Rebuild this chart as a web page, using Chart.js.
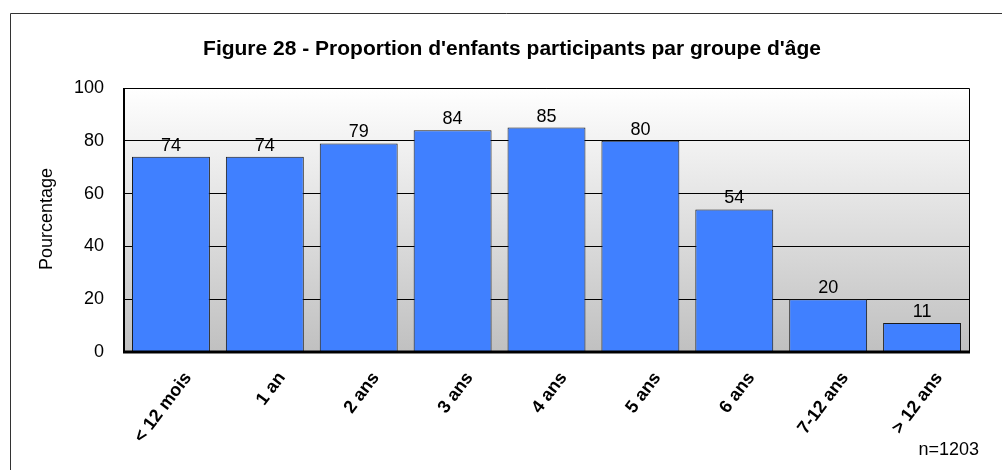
<!DOCTYPE html>
<html>
<head>
<meta charset="utf-8">
<script src="https://cdn.jsdelivr.net/npm/chart.js@4.4.1/dist/chart.umd.min.js"></script>
<style>
  html, body { margin: 0; padding: 0; background: #fff; }
  #wrap { position: relative; width: 1002px; height: 470px; }
</style>
</head>
<body>
<div id="wrap"><canvas id="chart" width="1002" height="470"></canvas></div>
<script>
  var groupes = ["< 12 mois", "1 an", "2 ans", "3 ans", "4 ans", "5 ans", "6 ans", "7-12 ans", "> 12 ans"];
  var pourcentages = [74, 74, 79, 84, 85, 80, 54, 20, 11];
  var titre = "Figure 28 - Proportion d'enfants participants par groupe d'âge";
  var titreAxeY = "Pourcentage";
  var note = "n=1203";

  var police = "'Liberation Sans', Arial, sans-serif";

  var cadre = {
    id: "cadre",
    beforeDraw: function (chart) {
      var c = chart.ctx, a = chart.chartArea;
      c.save();
      // fond dégradé de la zone de tracé
      var g = c.createLinearGradient(0, a.top, 0, a.bottom);
      g.addColorStop(0, "#ffffff");
      g.addColorStop(1, "#c0c0c0");
      c.fillStyle = g;
      c.fillRect(a.left, a.top, a.right - a.left, a.bottom - a.top);
      // cadre extérieur
      c.strokeStyle = "#333";
      c.lineWidth = 1;
      c.beginPath();
      c.moveTo(10.5, 470);
      c.lineTo(10.5, 13.5);
      c.lineTo(1002, 13.5);
      c.stroke();
      c.restore();
    },
    afterDraw: function (chart) {
      var c = chart.ctx, a = chart.chartArea;
      c.save();
      c.strokeStyle = "#000";
      c.lineWidth = 1;
      c.beginPath();
      c.moveTo(a.left, a.top + 0.5);
      c.lineTo(a.right + 0.5, a.top + 0.5);
      c.lineTo(a.right + 0.5, a.bottom);
      c.stroke();
      c.lineWidth = 2;
      c.beginPath();
      c.moveTo(a.left, a.top);
      c.lineTo(a.left, a.bottom + 1);
      c.stroke();
      c.lineWidth = 3;
      c.beginPath();
      c.moveTo(a.left - 1, a.bottom);
      c.lineTo(a.right + 1, a.bottom);
      c.stroke();

      c.fillStyle = "#000";
      c.textBaseline = "middle";
      c.textAlign = "center";
      c.save();
      c.translate(512, 49);
      c.scale(1.05, 1);
      c.font = "bold 20px " + police;
      c.fillText(titre, 0, 0);
      c.restore();

      c.font = "18px " + police;
      c.textAlign = "right";
      c.fillText(note, 979, 450);

      c.translate(47, 219);
      c.rotate(-Math.PI / 2);
      c.textAlign = "center";
      c.fillText(titreAxeY, 0, 0);
      c.restore();

      // étiquettes de valeur
      var meta = chart.getDatasetMeta(0);
      c.save();
      c.font = "18px " + police;
      c.fillStyle = "#000";
      c.textAlign = "center";
      c.textBaseline = "middle";
      meta.data.forEach(function (bar, i) {
        c.fillText(String(pourcentages[i]), bar.x, bar.y - 11);
      });
      c.restore();
    }
  };

  new Chart(document.getElementById("chart"), {
    type: "bar",
    data: {
      labels: groupes,
      datasets: [
        {
          data: pourcentages,
          backgroundColor: "#4080ff",
          borderColor: "#1a1a1a",
          borderWidth: 1,
          borderSkipped: "bottom",
          barPercentage: 0.83,
          categoryPercentage: 1,
        },
      ],
    },
    options: {
      responsive: false,
      animation: false,
      layout: { padding: { left: 0, right: 33, top: 88, bottom: 0 } },
      plugins: {
        legend: { display: false },
        tooltip: { enabled: false },
      },
      scales: {
        x: {
          afterFit: function (s) { s.height = 118; },
          grid: { display: false, drawTicks: false },
          border: { display: false },
          ticks: {
            color: "#000",
            font: { family: police, size: 18, weight: "bold" },
            minRotation: 53,
            maxRotation: 53,
            padding: 16,
            labelOffset: 17,
            autoSkip: false,
          },
        },
        y: {
          min: 0,
          max: 100,
          afterFit: function (s) { s.width = 124; },
          grid: { color: "#000", lineWidth: 1, drawTicks: false },
          border: { display: false },
          ticks: {
            stepSize: 20,
            color: "#000",
            font: { family: police, size: 18 },
            padding: 20,
          },
        },
      },
    },
    plugins: [cadre],
  });
</script>
</body>
</html>
